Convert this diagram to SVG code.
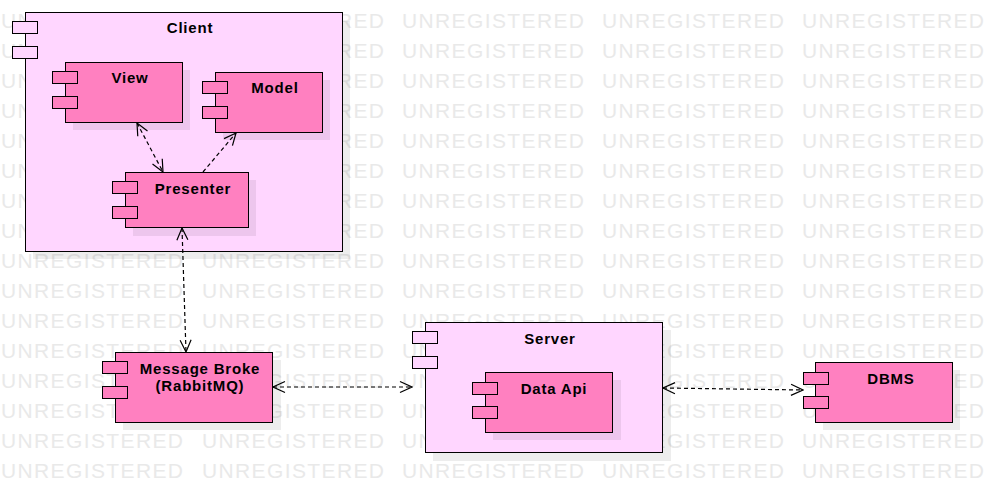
<svg xmlns="http://www.w3.org/2000/svg" width="1002" height="502" viewBox="0 0 1002 502">
<defs>
<style>
.wm{font-family:"Liberation Sans",Arial,sans-serif;font-size:21px;fill:#e9e9e9}
.cont{fill:#FFD6FF;stroke:#000;stroke-width:1}
.comp{fill:#FF80C0;stroke:#000;stroke-width:1}
.shadow{fill:#000;fill-opacity:0.07}
.lbl{font-family:"Liberation Sans",Arial,sans-serif;font-size:15px;font-weight:bold;letter-spacing:0.8px;fill:#000;text-anchor:middle}
.conn{fill:none;stroke:#000;stroke-width:1.2;stroke-dasharray:4,3}
</style>
<marker id="arr" viewBox="0 0 14 14" refX="13" refY="7" markerWidth="14" markerHeight="14" markerUnits="userSpaceOnUse" orient="auto-start-reverse">
<path d="M1,1.5 L13,7 L1,12.5" fill="none" stroke="#000" stroke-width="1.2"/>
</marker>
</defs>
<rect width="1002" height="502" fill="#fff"/>
<g id="watermark">
<g class="wm">
<text x="1" y="28" textLength="182">UNREGISTERED</text><text x="202" y="28" textLength="182">UNREGISTERED</text><text x="402" y="28" textLength="182">UNREGISTERED</text><text x="602" y="28" textLength="182">UNREGISTERED</text><text x="802" y="28" textLength="182">UNREGISTERED</text>
<text x="1" y="58" textLength="182">UNREGISTERED</text><text x="202" y="58" textLength="182">UNREGISTERED</text><text x="402" y="58" textLength="182">UNREGISTERED</text><text x="602" y="58" textLength="182">UNREGISTERED</text><text x="802" y="58" textLength="182">UNREGISTERED</text>
<text x="1" y="88" textLength="182">UNREGISTERED</text><text x="202" y="88" textLength="182">UNREGISTERED</text><text x="402" y="88" textLength="182">UNREGISTERED</text><text x="602" y="88" textLength="182">UNREGISTERED</text><text x="802" y="88" textLength="182">UNREGISTERED</text>
<text x="1" y="118" textLength="182">UNREGISTERED</text><text x="202" y="118" textLength="182">UNREGISTERED</text><text x="402" y="118" textLength="182">UNREGISTERED</text><text x="602" y="118" textLength="182">UNREGISTERED</text><text x="802" y="118" textLength="182">UNREGISTERED</text>
<text x="1" y="148" textLength="182">UNREGISTERED</text><text x="202" y="148" textLength="182">UNREGISTERED</text><text x="402" y="148" textLength="182">UNREGISTERED</text><text x="602" y="148" textLength="182">UNREGISTERED</text><text x="802" y="148" textLength="182">UNREGISTERED</text>
<text x="1" y="178" textLength="182">UNREGISTERED</text><text x="202" y="178" textLength="182">UNREGISTERED</text><text x="402" y="178" textLength="182">UNREGISTERED</text><text x="602" y="178" textLength="182">UNREGISTERED</text><text x="802" y="178" textLength="182">UNREGISTERED</text>
<text x="1" y="208" textLength="182">UNREGISTERED</text><text x="202" y="208" textLength="182">UNREGISTERED</text><text x="402" y="208" textLength="182">UNREGISTERED</text><text x="602" y="208" textLength="182">UNREGISTERED</text><text x="802" y="208" textLength="182">UNREGISTERED</text>
<text x="1" y="238" textLength="182">UNREGISTERED</text><text x="202" y="238" textLength="182">UNREGISTERED</text><text x="402" y="238" textLength="182">UNREGISTERED</text><text x="602" y="238" textLength="182">UNREGISTERED</text><text x="802" y="238" textLength="182">UNREGISTERED</text>
<text x="1" y="268" textLength="182">UNREGISTERED</text><text x="202" y="268" textLength="182">UNREGISTERED</text><text x="402" y="268" textLength="182">UNREGISTERED</text><text x="602" y="268" textLength="182">UNREGISTERED</text><text x="802" y="268" textLength="182">UNREGISTERED</text>
<text x="1" y="298" textLength="182">UNREGISTERED</text><text x="202" y="298" textLength="182">UNREGISTERED</text><text x="402" y="298" textLength="182">UNREGISTERED</text><text x="602" y="298" textLength="182">UNREGISTERED</text><text x="802" y="298" textLength="182">UNREGISTERED</text>
<text x="1" y="328" textLength="182">UNREGISTERED</text><text x="202" y="328" textLength="182">UNREGISTERED</text><text x="402" y="328" textLength="182">UNREGISTERED</text><text x="602" y="328" textLength="182">UNREGISTERED</text><text x="802" y="328" textLength="182">UNREGISTERED</text>
<text x="1" y="358" textLength="182">UNREGISTERED</text><text x="202" y="358" textLength="182">UNREGISTERED</text><text x="402" y="358" textLength="182">UNREGISTERED</text><text x="602" y="358" textLength="182">UNREGISTERED</text><text x="802" y="358" textLength="182">UNREGISTERED</text>
<text x="1" y="388" textLength="182">UNREGISTERED</text><text x="202" y="388" textLength="182">UNREGISTERED</text><text x="402" y="388" textLength="182">UNREGISTERED</text><text x="602" y="388" textLength="182">UNREGISTERED</text><text x="802" y="388" textLength="182">UNREGISTERED</text>
<text x="1" y="418" textLength="182">UNREGISTERED</text><text x="202" y="418" textLength="182">UNREGISTERED</text><text x="402" y="418" textLength="182">UNREGISTERED</text><text x="602" y="418" textLength="182">UNREGISTERED</text><text x="802" y="418" textLength="182">UNREGISTERED</text>
<text x="1" y="448" textLength="182">UNREGISTERED</text><text x="202" y="448" textLength="182">UNREGISTERED</text><text x="402" y="448" textLength="182">UNREGISTERED</text><text x="602" y="448" textLength="182">UNREGISTERED</text><text x="802" y="448" textLength="182">UNREGISTERED</text>
<text x="1" y="478" textLength="182">UNREGISTERED</text><text x="202" y="478" textLength="182">UNREGISTERED</text><text x="402" y="478" textLength="182">UNREGISTERED</text><text x="602" y="478" textLength="182">UNREGISTERED</text><text x="802" y="478" textLength="182">UNREGISTERED</text>
</g>
</g>

<g id="client">
<rect class="shadow" x="33" y="21" width="317" height="238"/>
<rect class="cont" x="25.5" y="12.5" width="317" height="239"/>
<rect class="cont" x="12.5" y="21.5" width="25" height="12"/>
<rect class="cont" x="12.5" y="46.5" width="25" height="12"/>
<text class="lbl" x="190" y="33">Client</text>
</g>

<g id="view">
<rect class="shadow" x="73" y="70" width="117" height="60"/>
<rect class="comp" x="65.5" y="62.5" width="117" height="60"/>
<rect class="comp" x="52.5" y="71.5" width="25" height="12"/>
<rect class="comp" x="52.5" y="96.5" width="25" height="12"/>
<text class="lbl" x="130" y="83">View</text>
</g>

<g id="model">
<rect class="shadow" x="223" y="80" width="107" height="60"/>
<rect class="comp" x="215.5" y="72.5" width="107" height="60"/>
<rect class="comp" x="202.5" y="81.5" width="25" height="12"/>
<rect class="comp" x="202.5" y="106.5" width="25" height="12"/>
<text class="lbl" x="275" y="93">Model</text>
</g>

<g id="presenter">
<rect class="shadow" x="133" y="180" width="123" height="56"/>
<rect class="comp" x="125.5" y="172.5" width="123" height="55"/>
<rect class="comp" x="112.5" y="181.5" width="25" height="12"/>
<rect class="comp" x="112.5" y="206.5" width="25" height="12"/>
<text class="lbl" x="193" y="194">Presenter</text>
</g>

<g id="message-broker">
<rect class="shadow" x="123" y="360" width="158" height="70"/>
<rect class="comp" x="115.5" y="352.5" width="157" height="70"/>
<rect class="comp" x="102.5" y="361.5" width="25" height="12"/>
<rect class="comp" x="102.5" y="386.5" width="25" height="12"/>
<text class="lbl" x="200" y="374">Message Broke</text>
<text class="lbl" x="200" y="391">(RabbitMQ)</text>
</g>

<g id="server">
<rect class="shadow" x="433" y="330" width="238" height="131"/>
<rect class="cont" x="425.5" y="322.5" width="237" height="130"/>
<rect class="cont" x="412.5" y="331.5" width="25" height="12"/>
<rect class="cont" x="412.5" y="356.5" width="25" height="12"/>
<text class="lbl" x="550" y="344">Server</text>
</g>

<g id="data-api">
<rect class="shadow" x="493" y="380" width="128" height="60"/>
<rect class="comp" x="485.5" y="372.5" width="127" height="60"/>
<rect class="comp" x="472.5" y="382.5" width="25" height="12"/>
<rect class="comp" x="472.5" y="406.5" width="25" height="12"/>
<text class="lbl" x="554" y="394">Data Api</text>
</g>

<g id="dbms">
<rect class="shadow" x="823" y="370" width="137" height="60"/>
<rect class="comp" x="815.5" y="362.5" width="137" height="60"/>
<rect class="comp" x="803.5" y="372.5" width="25" height="12"/>
<rect class="comp" x="803.5" y="396.5" width="25" height="12"/>
<text class="lbl" x="891" y="384">DBMS</text>
</g>

<g id="connectors">
<line class="conn" x1="137" y1="123" x2="163" y2="172" marker-start="url(#arr)" marker-end="url(#arr)"/>
<line class="conn" x1="203" y1="172" x2="236" y2="133" marker-end="url(#arr)"/>
<line class="conn" x1="182" y1="228" x2="186" y2="352" marker-start="url(#arr)" marker-end="url(#arr)"/>
<line class="conn" x1="273" y1="387" x2="412" y2="387" marker-start="url(#arr)" marker-end="url(#arr)"/>
<line class="conn" x1="663" y1="388" x2="803" y2="390" marker-start="url(#arr)" marker-end="url(#arr)"/>
</g>
</svg>
